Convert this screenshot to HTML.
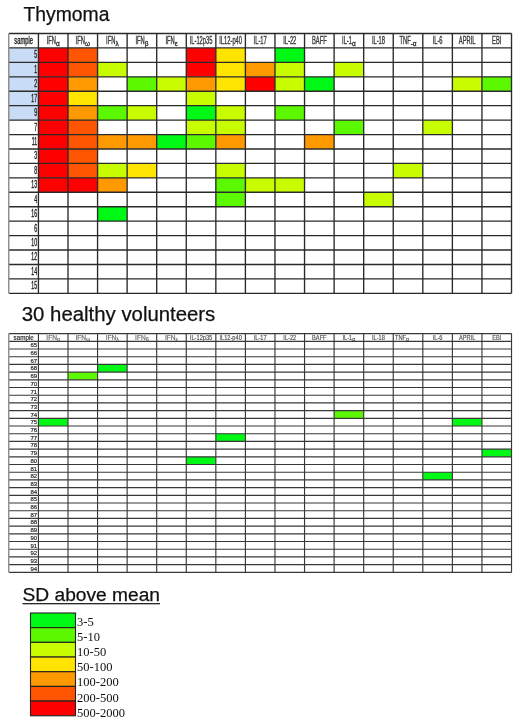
<!DOCTYPE html>
<html><head><meta charset="utf-8"><style>
html,body{margin:0;padding:0;background:#fff;width:520px;height:723px;overflow:hidden}
svg{display:block;will-change:transform}

</style></head><body>
<svg width="520" height="723" viewBox="0 0 520 723" font-family="Liberation Sans, sans-serif">
<rect width="520" height="723" fill="#fff"/>
<text x="23.5" y="20.5" font-size="19.3" textLength="86" lengthAdjust="spacingAndGlyphs" fill="#111" stroke="#111" stroke-width="0.25">Thymoma</text>
<text x="21.8" y="321" font-size="19.4" textLength="193.5" lengthAdjust="spacingAndGlyphs" fill="#111" stroke="#111" stroke-width="0.25">30 healthy volunteers</text>
<text x="22.5" y="600.9" font-size="19.2" textLength="137.5" lengthAdjust="spacingAndGlyphs" fill="#111" stroke="#111" stroke-width="0.25">SD above mean</text>
<rect x="22.5" y="603.1" width="137.5" height="1.2" fill="#111"/>
<rect x="8.86" y="47.94" width="29.57" height="14.44" fill="#c8ddf5"/><rect x="38.43" y="47.94" width="29.57" height="14.44" fill="#ff0000"/><rect x="68.00" y="47.94" width="29.57" height="14.44" fill="#ff5500"/><rect x="186.27" y="47.94" width="29.57" height="14.44" fill="#ff0000"/><rect x="215.84" y="47.94" width="29.57" height="14.44" fill="#ffe400"/><rect x="274.97" y="47.94" width="29.57" height="14.44" fill="#00f815"/><rect x="8.86" y="62.37" width="29.57" height="14.44" fill="#c8ddf5"/><rect x="38.43" y="62.37" width="29.57" height="14.44" fill="#ff0000"/><rect x="68.00" y="62.37" width="29.57" height="14.44" fill="#ff5500"/><rect x="97.56" y="62.37" width="29.57" height="14.44" fill="#c8fc00"/><rect x="186.27" y="62.37" width="29.57" height="14.44" fill="#ff0000"/><rect x="215.84" y="62.37" width="29.57" height="14.44" fill="#ffe400"/><rect x="245.40" y="62.37" width="29.57" height="14.44" fill="#ff9900"/><rect x="274.97" y="62.37" width="29.57" height="14.44" fill="#c8fc00"/><rect x="334.11" y="62.37" width="29.57" height="14.44" fill="#c8fc00"/><rect x="8.86" y="76.81" width="29.57" height="14.44" fill="#c8ddf5"/><rect x="38.43" y="76.81" width="29.57" height="14.44" fill="#ff0000"/><rect x="68.00" y="76.81" width="29.57" height="14.44" fill="#ff9900"/><rect x="127.13" y="76.81" width="29.57" height="14.44" fill="#5cf800"/><rect x="156.70" y="76.81" width="29.57" height="14.44" fill="#c8fc00"/><rect x="186.27" y="76.81" width="29.57" height="14.44" fill="#ff9900"/><rect x="215.84" y="76.81" width="29.57" height="14.44" fill="#ffe400"/><rect x="245.40" y="76.81" width="29.57" height="14.44" fill="#ff0000"/><rect x="274.97" y="76.81" width="29.57" height="14.44" fill="#c8fc00"/><rect x="304.54" y="76.81" width="29.57" height="14.44" fill="#00f815"/><rect x="452.38" y="76.81" width="29.57" height="14.44" fill="#c8fc00"/><rect x="481.95" y="76.81" width="29.57" height="14.44" fill="#5cf800"/><rect x="8.86" y="91.24" width="29.57" height="14.44" fill="#c8ddf5"/><rect x="38.43" y="91.24" width="29.57" height="14.44" fill="#ff0000"/><rect x="68.00" y="91.24" width="29.57" height="14.44" fill="#ffe400"/><rect x="186.27" y="91.24" width="29.57" height="14.44" fill="#c8fc00"/><rect x="8.86" y="105.67" width="29.57" height="14.44" fill="#c8ddf5"/><rect x="38.43" y="105.67" width="29.57" height="14.44" fill="#ff0000"/><rect x="68.00" y="105.67" width="29.57" height="14.44" fill="#ff9900"/><rect x="97.56" y="105.67" width="29.57" height="14.44" fill="#5cf800"/><rect x="127.13" y="105.67" width="29.57" height="14.44" fill="#c8fc00"/><rect x="186.27" y="105.67" width="29.57" height="14.44" fill="#00f815"/><rect x="215.84" y="105.67" width="29.57" height="14.44" fill="#c8fc00"/><rect x="274.97" y="105.67" width="29.57" height="14.44" fill="#5cf800"/><rect x="38.43" y="120.11" width="29.57" height="14.44" fill="#ff0000"/><rect x="68.00" y="120.11" width="29.57" height="14.44" fill="#ff5500"/><rect x="186.27" y="120.11" width="29.57" height="14.44" fill="#c8fc00"/><rect x="215.84" y="120.11" width="29.57" height="14.44" fill="#c8fc00"/><rect x="334.11" y="120.11" width="29.57" height="14.44" fill="#5cf800"/><rect x="422.81" y="120.11" width="29.57" height="14.44" fill="#c8fc00"/><rect x="38.43" y="134.55" width="29.57" height="14.44" fill="#ff0000"/><rect x="68.00" y="134.55" width="29.57" height="14.44" fill="#ff5500"/><rect x="97.56" y="134.55" width="29.57" height="14.44" fill="#ff9900"/><rect x="127.13" y="134.55" width="29.57" height="14.44" fill="#ff9900"/><rect x="156.70" y="134.55" width="29.57" height="14.44" fill="#00f815"/><rect x="186.27" y="134.55" width="29.57" height="14.44" fill="#5cf800"/><rect x="215.84" y="134.55" width="29.57" height="14.44" fill="#ff9900"/><rect x="304.54" y="134.55" width="29.57" height="14.44" fill="#ff9900"/><rect x="38.43" y="148.98" width="29.57" height="14.44" fill="#ff0000"/><rect x="68.00" y="148.98" width="29.57" height="14.44" fill="#ff5500"/><rect x="38.43" y="163.41" width="29.57" height="14.44" fill="#ff0000"/><rect x="68.00" y="163.41" width="29.57" height="14.44" fill="#ff5500"/><rect x="97.56" y="163.41" width="29.57" height="14.44" fill="#c8fc00"/><rect x="127.13" y="163.41" width="29.57" height="14.44" fill="#ffe400"/><rect x="215.84" y="163.41" width="29.57" height="14.44" fill="#c8fc00"/><rect x="393.24" y="163.41" width="29.57" height="14.44" fill="#c8fc00"/><rect x="38.43" y="177.85" width="29.57" height="14.44" fill="#ff0000"/><rect x="68.00" y="177.85" width="29.57" height="14.44" fill="#ff0000"/><rect x="97.56" y="177.85" width="29.57" height="14.44" fill="#ff9900"/><rect x="215.84" y="177.85" width="29.57" height="14.44" fill="#5cf800"/><rect x="245.40" y="177.85" width="29.57" height="14.44" fill="#c8fc00"/><rect x="274.97" y="177.85" width="29.57" height="14.44" fill="#c8fc00"/><rect x="215.84" y="192.28" width="29.57" height="14.44" fill="#5cf800"/><rect x="363.68" y="192.28" width="29.57" height="14.44" fill="#c8fc00"/><rect x="97.56" y="206.72" width="29.57" height="14.44" fill="#00f815"/><g stroke="#2a2a2a" stroke-width="1.35"><line x1="8.86" y1="33.50" x2="511.52" y2="33.50"/><line x1="8.86" y1="47.94" x2="511.52" y2="47.94"/><line x1="8.86" y1="62.37" x2="511.52" y2="62.37"/><line x1="8.86" y1="76.81" x2="511.52" y2="76.81"/><line x1="8.86" y1="91.24" x2="511.52" y2="91.24"/><line x1="8.86" y1="105.67" x2="511.52" y2="105.67"/><line x1="8.86" y1="120.11" x2="511.52" y2="120.11"/><line x1="8.86" y1="134.55" x2="511.52" y2="134.55"/><line x1="8.86" y1="148.98" x2="511.52" y2="148.98"/><line x1="8.86" y1="163.41" x2="511.52" y2="163.41"/><line x1="8.86" y1="177.85" x2="511.52" y2="177.85"/><line x1="8.86" y1="192.28" x2="511.52" y2="192.28"/><line x1="8.86" y1="206.72" x2="511.52" y2="206.72"/><line x1="8.86" y1="221.16" x2="511.52" y2="221.16"/><line x1="8.86" y1="235.59" x2="511.52" y2="235.59"/><line x1="8.86" y1="250.03" x2="511.52" y2="250.03"/><line x1="8.86" y1="264.46" x2="511.52" y2="264.46"/><line x1="8.86" y1="278.89" x2="511.52" y2="278.89"/><line x1="8.86" y1="293.33" x2="511.52" y2="293.33"/><line x1="8.76" y1="33.50" x2="8.76" y2="293.33" stroke="#8a8a8a" stroke-width="1.4"/><line x1="38.43" y1="33.50" x2="38.43" y2="293.33"/><line x1="68.00" y1="33.50" x2="68.00" y2="293.33"/><line x1="97.56" y1="33.50" x2="97.56" y2="293.33"/><line x1="127.13" y1="33.50" x2="127.13" y2="293.33"/><line x1="156.70" y1="33.50" x2="156.70" y2="293.33"/><line x1="186.27" y1="33.50" x2="186.27" y2="293.33"/><line x1="215.84" y1="33.50" x2="215.84" y2="293.33"/><line x1="245.40" y1="33.50" x2="245.40" y2="293.33"/><line x1="274.97" y1="33.50" x2="274.97" y2="293.33"/><line x1="304.54" y1="33.50" x2="304.54" y2="293.33"/><line x1="334.11" y1="33.50" x2="334.11" y2="293.33"/><line x1="363.68" y1="33.50" x2="363.68" y2="293.33"/><line x1="393.24" y1="33.50" x2="393.24" y2="293.33"/><line x1="422.81" y1="33.50" x2="422.81" y2="293.33"/><line x1="452.38" y1="33.50" x2="452.38" y2="293.33"/><line x1="481.95" y1="33.50" x2="481.95" y2="293.33"/><line x1="511.52" y1="33.50" x2="511.52" y2="293.33"/></g><g fill="#222222" stroke="#222222" stroke-width="0.4"><text transform="translate(23.64,43.80) scale(0.55,1)" text-anchor="middle" font-size="10.5" fill="#222222" stroke="#222222">sample</text><text transform="translate(46.70,43.80) scale(0.55,1)" font-size="10.5" fill="#383838" stroke="#383838">IFN</text><text transform="translate(56.01,45.60) scale(0.85,1)" font-size="7.56" fill="#383838" stroke="#383838">α</text><text transform="translate(75.62,43.80) scale(0.55,1)" font-size="10.5" fill="#383838" stroke="#383838">IFN</text><text transform="translate(84.92,45.60) scale(0.85,1)" font-size="7.56" fill="#383838" stroke="#383838">ω</text><text transform="translate(106.09,43.80) scale(0.55,1)" font-size="10.5" fill="#383838" stroke="#383838">IFN</text><text transform="translate(115.39,45.60) scale(0.85,1)" font-size="7.56" fill="#383838" stroke="#383838">λ</text><text transform="translate(135.42,43.80) scale(0.55,1)" font-size="10.5" fill="#383838" stroke="#383838">IFN</text><text transform="translate(144.72,45.60) scale(0.85,1)" font-size="7.56" fill="#383838" stroke="#383838">β</text><text transform="translate(165.40,43.80) scale(0.55,1)" font-size="10.5" fill="#383838" stroke="#383838">IFN</text><text transform="translate(174.70,45.60) scale(0.85,1)" font-size="7.56" fill="#383838" stroke="#383838">ε</text><text transform="translate(201.05,43.80) scale(0.55,1)" text-anchor="middle" font-size="10.5" fill="#3a3a3a" stroke="#3a3a3a">IL-12p35</text><text transform="translate(230.62,43.80) scale(0.55,1)" text-anchor="middle" font-size="10.5" fill="#3a3a3a" stroke="#3a3a3a">IL12-p40</text><text transform="translate(260.19,43.80) scale(0.55,1)" text-anchor="middle" font-size="10.5" fill="#3a3a3a" stroke="#3a3a3a">IL-17</text><text transform="translate(289.76,43.80) scale(0.55,1)" text-anchor="middle" font-size="10.5" fill="#3a3a3a" stroke="#3a3a3a">IL-22</text><text transform="translate(319.32,43.80) scale(0.55,1)" text-anchor="middle" font-size="10.5" fill="#3a3a3a" stroke="#3a3a3a">BAFF</text><text transform="translate(342.06,43.80) scale(0.55,1)" font-size="10.5" fill="#3a3a3a" stroke="#3a3a3a">IL-1</text><text transform="translate(352.01,45.60) scale(0.85,1)" font-size="7.56" fill="#3a3a3a" stroke="#3a3a3a">α</text><text transform="translate(378.46,43.80) scale(0.55,1)" text-anchor="middle" font-size="10.5" fill="#3a3a3a" stroke="#3a3a3a">IL-18</text><text transform="translate(399.49,43.80) scale(0.55,1)" font-size="10.5" fill="#3a3a3a" stroke="#3a3a3a">TNF</text><text transform="translate(410.71,45.60) scale(0.85,1)" font-size="7.56" fill="#3a3a3a" stroke="#3a3a3a">-α</text><text transform="translate(437.60,43.80) scale(0.55,1)" text-anchor="middle" font-size="10.5" fill="#3a3a3a" stroke="#3a3a3a">IL-6</text><text transform="translate(467.16,43.80) scale(0.55,1)" text-anchor="middle" font-size="10.5" fill="#3a3a3a" stroke="#3a3a3a">APRIL</text><text transform="translate(496.73,43.80) scale(0.55,1)" text-anchor="middle" font-size="10.5" fill="#3a3a3a" stroke="#3a3a3a">EBI</text><text transform="translate(37.13,58.34) scale(0.5,1)" text-anchor="end" font-size="10.4">5</text><text transform="translate(37.13,72.77) scale(0.5,1)" text-anchor="end" font-size="10.4">1</text><text transform="translate(37.13,87.21) scale(0.5,1)" text-anchor="end" font-size="10.4">2</text><text transform="translate(37.13,101.64) scale(0.5,1)" text-anchor="end" font-size="10.4">17</text><text transform="translate(37.13,116.08) scale(0.5,1)" text-anchor="end" font-size="10.4">9</text><text transform="translate(37.13,130.51) scale(0.5,1)" text-anchor="end" font-size="10.4">7</text><text transform="translate(37.13,144.95) scale(0.5,1)" text-anchor="end" font-size="10.4">11</text><text transform="translate(37.13,159.38) scale(0.5,1)" text-anchor="end" font-size="10.4">3</text><text transform="translate(37.13,173.81) scale(0.5,1)" text-anchor="end" font-size="10.4">8</text><text transform="translate(37.13,188.25) scale(0.5,1)" text-anchor="end" font-size="10.4">13</text><text transform="translate(37.13,202.69) scale(0.5,1)" text-anchor="end" font-size="10.4">4</text><text transform="translate(37.13,217.12) scale(0.5,1)" text-anchor="end" font-size="10.4">16</text><text transform="translate(37.13,231.56) scale(0.5,1)" text-anchor="end" font-size="10.4">6</text><text transform="translate(37.13,245.99) scale(0.5,1)" text-anchor="end" font-size="10.4">10</text><text transform="translate(37.13,260.43) scale(0.5,1)" text-anchor="end" font-size="10.4">12</text><text transform="translate(37.13,274.86) scale(0.5,1)" text-anchor="end" font-size="10.4">14</text><text transform="translate(37.13,289.29) scale(0.5,1)" text-anchor="end" font-size="10.4">15</text></g>
<rect x="97.56" y="364.40" width="29.57" height="7.70" fill="#00f815"/><rect x="68.00" y="372.10" width="29.57" height="7.70" fill="#5cf800"/><rect x="334.11" y="410.60" width="29.57" height="7.70" fill="#5cf800"/><rect x="38.43" y="418.30" width="29.57" height="7.70" fill="#00f815"/><rect x="452.38" y="418.30" width="29.57" height="7.70" fill="#00f815"/><rect x="215.84" y="433.70" width="29.57" height="7.70" fill="#00f815"/><rect x="481.95" y="449.10" width="29.57" height="7.70" fill="#00f815"/><rect x="186.27" y="456.80" width="29.57" height="7.70" fill="#00f815"/><rect x="422.81" y="472.20" width="29.57" height="7.70" fill="#00f815"/><g stroke="#383838" stroke-width="1.15"><line x1="8.86" y1="333.60" x2="511.52" y2="333.60"/><line x1="8.86" y1="341.30" x2="511.52" y2="341.30"/><line x1="8.86" y1="349.00" x2="511.52" y2="349.00"/><line x1="8.86" y1="356.70" x2="511.52" y2="356.70"/><line x1="8.86" y1="364.40" x2="511.52" y2="364.40"/><line x1="8.86" y1="372.10" x2="511.52" y2="372.10"/><line x1="8.86" y1="379.80" x2="511.52" y2="379.80"/><line x1="8.86" y1="387.50" x2="511.52" y2="387.50"/><line x1="8.86" y1="395.20" x2="511.52" y2="395.20"/><line x1="8.86" y1="402.90" x2="511.52" y2="402.90"/><line x1="8.86" y1="410.60" x2="511.52" y2="410.60"/><line x1="8.86" y1="418.30" x2="511.52" y2="418.30"/><line x1="8.86" y1="426.00" x2="511.52" y2="426.00"/><line x1="8.86" y1="433.70" x2="511.52" y2="433.70"/><line x1="8.86" y1="441.40" x2="511.52" y2="441.40"/><line x1="8.86" y1="449.10" x2="511.52" y2="449.10"/><line x1="8.86" y1="456.80" x2="511.52" y2="456.80"/><line x1="8.86" y1="464.50" x2="511.52" y2="464.50"/><line x1="8.86" y1="472.20" x2="511.52" y2="472.20"/><line x1="8.86" y1="479.90" x2="511.52" y2="479.90"/><line x1="8.86" y1="487.60" x2="511.52" y2="487.60"/><line x1="8.86" y1="495.30" x2="511.52" y2="495.30"/><line x1="8.86" y1="503.00" x2="511.52" y2="503.00"/><line x1="8.86" y1="510.70" x2="511.52" y2="510.70"/><line x1="8.86" y1="518.40" x2="511.52" y2="518.40"/><line x1="8.86" y1="526.10" x2="511.52" y2="526.10"/><line x1="8.86" y1="533.80" x2="511.52" y2="533.80"/><line x1="8.86" y1="541.50" x2="511.52" y2="541.50"/><line x1="8.86" y1="549.20" x2="511.52" y2="549.20"/><line x1="8.86" y1="556.90" x2="511.52" y2="556.90"/><line x1="8.86" y1="564.60" x2="511.52" y2="564.60"/><line x1="8.86" y1="572.30" x2="511.52" y2="572.30"/><line x1="8.76" y1="333.60" x2="8.76" y2="572.30" stroke="#8a8a8a" stroke-width="1.4"/><line x1="38.43" y1="333.60" x2="38.43" y2="572.30"/><line x1="68.00" y1="333.60" x2="68.00" y2="572.30"/><line x1="97.56" y1="333.60" x2="97.56" y2="572.30"/><line x1="127.13" y1="333.60" x2="127.13" y2="572.30"/><line x1="156.70" y1="333.60" x2="156.70" y2="572.30"/><line x1="186.27" y1="333.60" x2="186.27" y2="572.30"/><line x1="215.84" y1="333.60" x2="215.84" y2="572.30"/><line x1="245.40" y1="333.60" x2="245.40" y2="572.30"/><line x1="274.97" y1="333.60" x2="274.97" y2="572.30"/><line x1="304.54" y1="333.60" x2="304.54" y2="572.30"/><line x1="334.11" y1="333.60" x2="334.11" y2="572.30"/><line x1="363.68" y1="333.60" x2="363.68" y2="572.30"/><line x1="393.24" y1="333.60" x2="393.24" y2="572.30"/><line x1="422.81" y1="333.60" x2="422.81" y2="572.30"/><line x1="452.38" y1="333.60" x2="452.38" y2="572.30"/><line x1="481.95" y1="333.60" x2="481.95" y2="572.30"/><line x1="511.52" y1="333.60" x2="511.52" y2="572.30"/></g><g fill="#222222" stroke="#222222" stroke-width="0.16"><text transform="translate(23.64,339.50) scale(0.95,1)" text-anchor="middle" font-size="6.6" fill="#222222" stroke="#222222">sample</text><text transform="translate(46.37,339.50) scale(1.0,1)" font-size="6.6" fill="#666" stroke="#666">IFN</text><text transform="translate(57.00,341.00) scale(1.0,1)" font-size="5.28" fill="#666" stroke="#666">α</text><text transform="translate(75.40,339.50) scale(1.0,1)" font-size="6.6" fill="#666" stroke="#666">IFN</text><text transform="translate(86.03,341.00) scale(1.0,1)" font-size="5.28" fill="#666" stroke="#666">ω</text><text transform="translate(105.71,339.50) scale(1.0,1)" font-size="6.6" fill="#666" stroke="#666">IFN</text><text transform="translate(116.34,341.00) scale(1.0,1)" font-size="5.28" fill="#666" stroke="#666">λ</text><text transform="translate(135.08,339.50) scale(1.0,1)" font-size="6.6" fill="#666" stroke="#666">IFN</text><text transform="translate(145.71,341.00) scale(1.0,1)" font-size="5.28" fill="#666" stroke="#666">β</text><text transform="translate(164.99,339.50) scale(1.0,1)" font-size="6.6" fill="#666" stroke="#666">IFN</text><text transform="translate(175.62,341.00) scale(1.0,1)" font-size="5.28" fill="#666" stroke="#666">ε</text><text transform="translate(201.05,339.50) scale(0.86,1)" text-anchor="middle" font-size="6.6" fill="#505050" stroke="#505050">IL-12p35</text><text transform="translate(230.62,339.50) scale(0.86,1)" text-anchor="middle" font-size="6.6" fill="#505050" stroke="#505050">IL12-p40</text><text transform="translate(260.19,339.50) scale(0.86,1)" text-anchor="middle" font-size="6.6" fill="#505050" stroke="#505050">IL-17</text><text transform="translate(289.76,339.50) scale(0.86,1)" text-anchor="middle" font-size="6.6" fill="#505050" stroke="#505050">IL-22</text><text transform="translate(319.32,339.50) scale(0.86,1)" text-anchor="middle" font-size="6.6" fill="#505050" stroke="#505050">BAFF</text><text transform="translate(342.48,339.50) scale(0.86,1)" font-size="6.6" fill="#505050" stroke="#505050">IL-1</text><text transform="translate(352.26,341.00) scale(1.0,1)" font-size="5.28" fill="#505050" stroke="#505050">α</text><text transform="translate(378.46,339.50) scale(0.86,1)" text-anchor="middle" font-size="6.6" fill="#505050" stroke="#505050">IL-18</text><text transform="translate(395.04,339.50) scale(0.86,1)" font-size="6.6" fill="#505050" stroke="#505050">TNF</text><text transform="translate(406.08,341.00) scale(1.0,1)" font-size="5.28" fill="#505050" stroke="#505050">α</text><text transform="translate(437.60,339.50) scale(0.86,1)" text-anchor="middle" font-size="6.6" fill="#505050" stroke="#505050">IL-6</text><text transform="translate(467.16,339.50) scale(0.86,1)" text-anchor="middle" font-size="6.6" fill="#505050" stroke="#505050">APRIL</text><text transform="translate(496.73,339.50) scale(0.86,1)" text-anchor="middle" font-size="6.6" fill="#505050" stroke="#505050">EBI</text><text transform="translate(37.13,347.35) scale(1.0,1)" text-anchor="end" font-size="6.0">65</text><text transform="translate(37.13,355.05) scale(1.0,1)" text-anchor="end" font-size="6.0">66</text><text transform="translate(37.13,362.75) scale(1.0,1)" text-anchor="end" font-size="6.0">67</text><text transform="translate(37.13,370.45) scale(1.0,1)" text-anchor="end" font-size="6.0">68</text><text transform="translate(37.13,378.15) scale(1.0,1)" text-anchor="end" font-size="6.0">69</text><text transform="translate(37.13,385.85) scale(1.0,1)" text-anchor="end" font-size="6.0">70</text><text transform="translate(37.13,393.55) scale(1.0,1)" text-anchor="end" font-size="6.0">71</text><text transform="translate(37.13,401.25) scale(1.0,1)" text-anchor="end" font-size="6.0">72</text><text transform="translate(37.13,408.95) scale(1.0,1)" text-anchor="end" font-size="6.0">73</text><text transform="translate(37.13,416.65) scale(1.0,1)" text-anchor="end" font-size="6.0">74</text><text transform="translate(37.13,424.35) scale(1.0,1)" text-anchor="end" font-size="6.0">75</text><text transform="translate(37.13,432.05) scale(1.0,1)" text-anchor="end" font-size="6.0">76</text><text transform="translate(37.13,439.75) scale(1.0,1)" text-anchor="end" font-size="6.0">77</text><text transform="translate(37.13,447.45) scale(1.0,1)" text-anchor="end" font-size="6.0">78</text><text transform="translate(37.13,455.15) scale(1.0,1)" text-anchor="end" font-size="6.0">79</text><text transform="translate(37.13,462.85) scale(1.0,1)" text-anchor="end" font-size="6.0">80</text><text transform="translate(37.13,470.55) scale(1.0,1)" text-anchor="end" font-size="6.0">81</text><text transform="translate(37.13,478.25) scale(1.0,1)" text-anchor="end" font-size="6.0">82</text><text transform="translate(37.13,485.95) scale(1.0,1)" text-anchor="end" font-size="6.0">83</text><text transform="translate(37.13,493.65) scale(1.0,1)" text-anchor="end" font-size="6.0">84</text><text transform="translate(37.13,501.35) scale(1.0,1)" text-anchor="end" font-size="6.0">85</text><text transform="translate(37.13,509.05) scale(1.0,1)" text-anchor="end" font-size="6.0">86</text><text transform="translate(37.13,516.75) scale(1.0,1)" text-anchor="end" font-size="6.0">87</text><text transform="translate(37.13,524.45) scale(1.0,1)" text-anchor="end" font-size="6.0">88</text><text transform="translate(37.13,532.15) scale(1.0,1)" text-anchor="end" font-size="6.0">89</text><text transform="translate(37.13,539.85) scale(1.0,1)" text-anchor="end" font-size="6.0">90</text><text transform="translate(37.13,547.55) scale(1.0,1)" text-anchor="end" font-size="6.0">91</text><text transform="translate(37.13,555.25) scale(1.0,1)" text-anchor="end" font-size="6.0">92</text><text transform="translate(37.13,562.95) scale(1.0,1)" text-anchor="end" font-size="6.0">93</text><text transform="translate(37.13,570.65) scale(1.0,1)" text-anchor="end" font-size="6.0">94</text></g>
<rect x="30.5" y="613.00" width="45.0" height="14.68" fill="#00f815" stroke="#222" stroke-width="1.1"/>
<rect x="30.5" y="627.68" width="45.0" height="14.68" fill="#5cf800" stroke="#222" stroke-width="1.1"/>
<rect x="30.5" y="642.36" width="45.0" height="14.68" fill="#c8fc00" stroke="#222" stroke-width="1.1"/>
<rect x="30.5" y="657.04" width="45.0" height="14.68" fill="#ffe400" stroke="#222" stroke-width="1.1"/>
<rect x="30.5" y="671.72" width="45.0" height="14.68" fill="#ff9900" stroke="#222" stroke-width="1.1"/>
<rect x="30.5" y="686.40" width="45.0" height="14.68" fill="#ff5500" stroke="#222" stroke-width="1.1"/>
<rect x="30.5" y="701.08" width="45.0" height="14.68" fill="#ff0000" stroke="#222" stroke-width="1.1"/>
<text x="77.0" y="625.50" font-family="Liberation Serif, serif" font-size="12.5" fill="#111">3-5</text>
<text x="77.0" y="640.73" font-family="Liberation Serif, serif" font-size="12.5" fill="#111">5-10</text>
<text x="77.0" y="655.96" font-family="Liberation Serif, serif" font-size="12.5" fill="#111">10-50</text>
<text x="77.0" y="671.19" font-family="Liberation Serif, serif" font-size="12.5" fill="#111">50-100</text>
<text x="77.0" y="686.42" font-family="Liberation Serif, serif" font-size="12.5" fill="#111">100-200</text>
<text x="77.0" y="701.65" font-family="Liberation Serif, serif" font-size="12.5" fill="#111">200-500</text>
<text x="77.0" y="716.88" font-family="Liberation Serif, serif" font-size="12.5" fill="#111">500-2000</text>
</svg>
</body></html>
